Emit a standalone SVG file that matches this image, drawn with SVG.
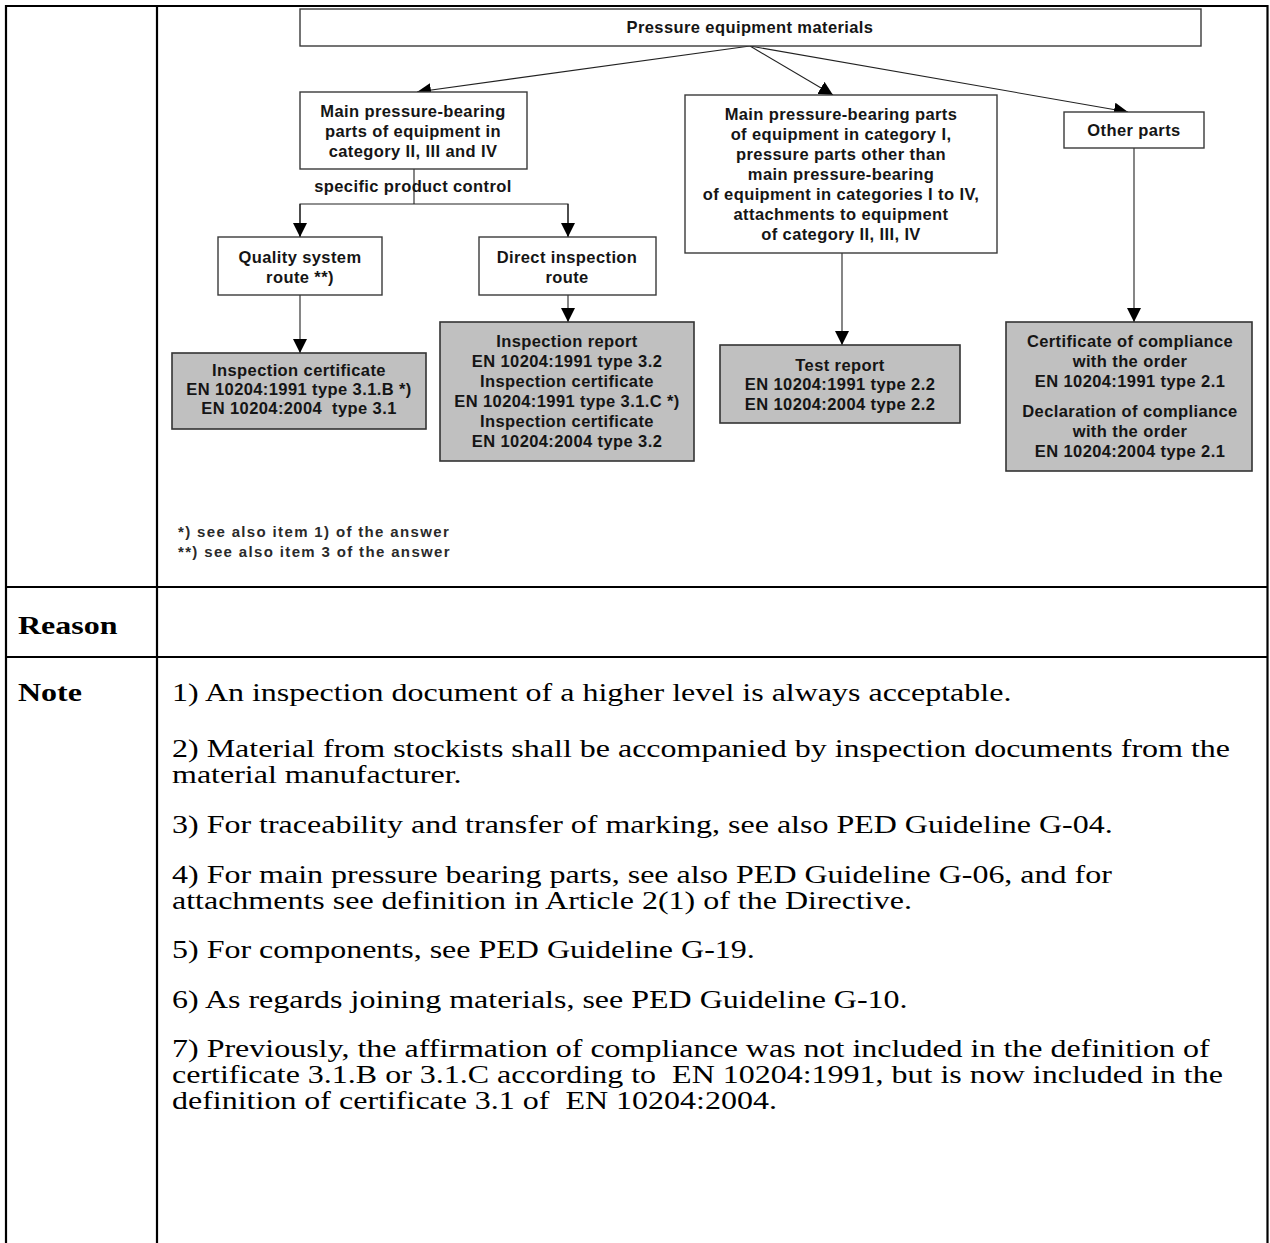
<svg xmlns="http://www.w3.org/2000/svg" width="1270" height="1243" viewBox="0 0 1270 1243">
<style>
text{white-space:pre}
.d{font-family:"Liberation Sans",Arial,sans-serif;font-weight:bold;font-size:16.5px;letter-spacing:0.4px;fill:#151515;text-anchor:middle}
.fn{font-family:"Liberation Sans",Arial,sans-serif;font-weight:bold;font-size:15px;letter-spacing:1.35px;fill:#2a2a2a}
.n{font-family:"Liberation Serif","Times New Roman",serif;font-size:25px;fill:#000}
.h{font-family:"Liberation Serif","Times New Roman",serif;font-size:25px;font-weight:bold;fill:#000}
.wb{fill:#fff;stroke:#3a3a3a;stroke-width:1.4}
.gb{fill:#c0c0c0;stroke:#333;stroke-width:1.6}
.c{fill:none;stroke:#222;stroke-width:1.1}
.t{stroke:#000;stroke-width:2.2;fill:none}
</style>
<defs>
<marker id="ah" markerUnits="userSpaceOnUse" markerWidth="16" markerHeight="14" refX="14" refY="7" orient="auto">
<path d="M0,0 L14,7 L0,14 Z" fill="#000"/>
</marker>
</defs>
<rect width="1270" height="1243" fill="#fff"/>
<g id="table">
<line class="t" x1="6" y1="6" x2="1268" y2="6"/>
<line class="t" x1="6" y1="5" x2="6" y2="1243"/>
<line class="t" x1="1267.5" y1="5" x2="1267.5" y2="1243"/>
<line class="t" x1="157" y1="6" x2="157" y2="1243"/>
<line class="t" x1="6" y1="587" x2="1268" y2="587"/>
<line class="t" x1="6" y1="657" x2="1268" y2="657"/>
</g>
<g id="connectors">
<line class="c" x1="750" y1="46" x2="417" y2="92" marker-end="url(#ah)"/>
<line class="c" x1="750" y1="46" x2="833" y2="95" marker-end="url(#ah)"/>
<line class="c" x1="750" y1="46" x2="1128" y2="112" marker-end="url(#ah)"/>
<polyline class="c" points="414,169 414,204"/>
<polyline class="c" points="300,237 300,204 568,204 568,237"/>
<line class="c" x1="300" y1="204" x2="300" y2="237" marker-end="url(#ah)"/>
<line class="c" x1="568" y1="204" x2="568" y2="237" marker-end="url(#ah)"/>
<line class="c" x1="300" y1="295" x2="300" y2="353" marker-end="url(#ah)"/>
<line class="c" x1="568" y1="295" x2="568" y2="322" marker-end="url(#ah)"/>
<line class="c" x1="842" y1="253" x2="842" y2="345" marker-end="url(#ah)"/>
<line class="c" x1="1134" y1="148" x2="1134" y2="322" marker-end="url(#ah)"/>
</g>
<g id="title">
<rect class="wb" x="300" y="9" width="901" height="37"/>
<text class="d" x="750" y="33">Pressure equipment materials</text>
</g>
<g id="mainParts">
<rect class="wb" x="300" y="92" width="227" height="77"/>
<text class="d" x="413" y="117">Main pressure-bearing</text>
<text class="d" x="413" y="137">parts of equipment in</text>
<text class="d" x="413" y="157">category II, III and IV</text>
</g>
<g id="specificLabel">
<text class="d" x="413" y="192">specific product control</text>
</g>
<g id="quality">
<rect class="wb" x="218" y="237" width="164" height="58"/>
<text class="d" x="300" y="263">Quality system</text>
<text class="d" x="300" y="283">route **)</text>
</g>
<g id="direct">
<rect class="wb" x="479" y="237" width="177" height="58"/>
<text class="d" x="567" y="263">Direct inspection</text>
<text class="d" x="567" y="283">route</text>
</g>
<g id="cert31">
<rect class="gb" x="172" y="353" width="254" height="76"/>
<text class="d" x="299" y="376">Inspection certificate</text>
<text class="d" x="299" y="395">EN 10204:1991 type 3.1.B *)</text>
<text class="d" x="299" y="414">EN 10204:2004  type 3.1</text>
</g>
<g id="cert32">
<rect class="gb" x="440" y="322" width="254" height="139"/>
<text class="d" x="567" y="347">Inspection report</text>
<text class="d" x="567" y="367">EN 10204:1991 type 3.2</text>
<text class="d" x="567" y="387">Inspection certificate</text>
<text class="d" x="567" y="407">EN 10204:1991 type 3.1.C *)</text>
<text class="d" x="567" y="427">Inspection certificate</text>
<text class="d" x="567" y="447">EN 10204:2004 type 3.2</text>
</g>
<g id="catI">
<rect class="wb" x="685" y="95" width="312" height="158"/>
<text class="d" x="841" y="120">Main pressure-bearing parts</text>
<text class="d" x="841" y="140">of equipment in category I,</text>
<text class="d" x="841" y="160">pressure parts other than</text>
<text class="d" x="841" y="180">main pressure-bearing</text>
<text class="d" x="841" y="200">of equipment in categories I to IV,</text>
<text class="d" x="841" y="220">attachments to equipment</text>
<text class="d" x="841" y="240">of category II, III, IV</text>
</g>
<g id="testReport">
<rect class="gb" x="720" y="345" width="240" height="78"/>
<text class="d" x="840" y="371">Test report</text>
<text class="d" x="840" y="390">EN 10204:1991 type 2.2</text>
<text class="d" x="840" y="410">EN 10204:2004 type 2.2</text>
</g>
<g id="other">
<rect class="wb" x="1064" y="112" width="140" height="36"/>
<text class="d" x="1134" y="136">Other parts</text>
</g>
<g id="compliance">
<rect class="gb" x="1006" y="322" width="246" height="149"/>
<text class="d" x="1130" y="347">Certificate of compliance</text>
<text class="d" x="1130" y="367">with the order</text>
<text class="d" x="1130" y="387">EN 10204:1991 type 2.1</text>
<text class="d" x="1130" y="417">Declaration of compliance</text>
<text class="d" x="1130" y="437">with the order</text>
<text class="d" x="1130" y="457">EN 10204:2004 type 2.1</text>
</g>
<g id="footnotes">
<text class="fn" x="178" y="537">*) see also item 1) of the answer</text>
<text class="fn" x="178" y="557">**) see also item 3 of the answer</text>
</g>
<g id="labels" transform="translate(18,0) scale(1.28,1)">
<text class="h" x="0" y="634">Reason</text>
<text class="h" x="0" y="701">Note</text>
</g>
<g id="notes" transform="translate(172,0) scale(1.28,1)">
<text class="n" x="0" y="701">1) An inspection document of a higher level is always acceptable.</text>
<text class="n" x="0" y="757">2) Material from stockists shall be accompanied by inspection documents from the</text>
<text class="n" x="0" y="783">material manufacturer.</text>
<text class="n" x="0" y="833">3) For traceability and transfer of marking, see also PED Guideline G-04.</text>
<text class="n" x="0" y="883">4) For main pressure bearing parts, see also PED Guideline G-06, and for</text>
<text class="n" x="0" y="909">attachments see definition in Article 2(1) of the Directive.</text>
<text class="n" x="0" y="958">5) For components, see PED Guideline G-19.</text>
<text class="n" x="0" y="1008">6) As regards joining materials, see PED Guideline G-10.</text>
<text class="n" x="0" y="1057">7) Previously, the affirmation of compliance was not included in the definition of</text>
<text class="n" x="0" y="1083">certificate 3.1.B or 3.1.C according to  EN 10204:1991, but is now included in the</text>
<text class="n" x="0" y="1109">definition of certificate 3.1 of  EN 10204:2004.</text>
</g>
</svg>
